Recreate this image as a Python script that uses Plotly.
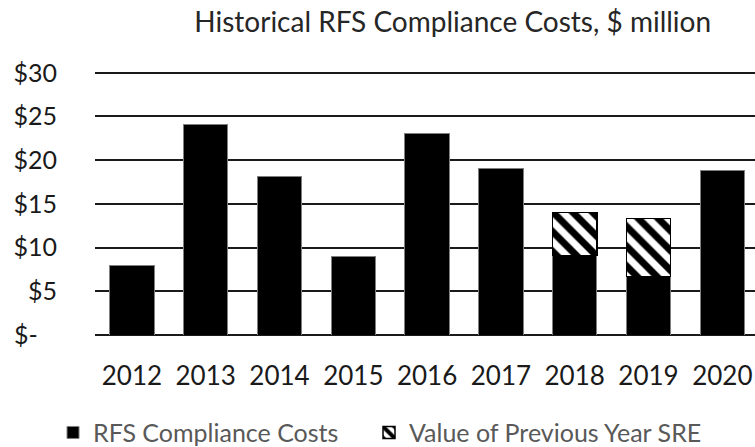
import plotly.graph_objects as go

years = ["2012", "2013", "2014", "2015", "2016", "2017", "2018", "2019", "2020"]
rfs_costs = [8.0, 24.1, 18.1, 9.0, 23.1, 19.1, 9.1, 6.7, 18.8]
sre_value = [None, None, None, None, None, None, 4.9, 6.6, None]
y_tickvals = [0, 5, 10, 15, 20, 25, 30]
y_ticktext = ["$-\u00a0\u00a0\u00a0", "$5", "$10", "$15", "$20", "$25", "$30"]

FONT = "Lato"

fig = go.Figure()
fig.add_trace(go.Bar(
    x=years, y=rfs_costs, name="RFS Compliance Costs" + "\u00a0" * 4,
    marker=dict(color="black", line=dict(color="#7f7f7f", width=1)),
))
fig.add_trace(go.Bar(
    x=years, y=sre_value, name="Value of Previous Year SRE",
    marker=dict(color="white", line=dict(color="black", width=1.5),
                pattern=dict(shape="\\", fgcolor="black", bgcolor="white",
                             fgopacity=1, size=14, solidity=0.5)),
))

fig.update_layout(
    width=755, height=447,
    barmode="stack", bargap=0.4,
    plot_bgcolor="white", paper_bgcolor="white",
    margin=dict(l=95, r=0, t=71, b=112, autoexpand=False),
    font=dict(family=FONT, color="#262626"),
    title=dict(text="Historical RFS Compliance Costs, $ million",
               x=0.542, xref="paper", xanchor="center",
               y=1 - 22 / 447, yref="container", yanchor="middle",
               font=dict(size=28, color="#262626", family=FONT)),
    xaxis=dict(range=[-0.5, 8.443], showgrid=False, showline=False,
               ticks="", tickfont=dict(size=26, color="#1a1a1a"),
               ticklabelstandoff=23, automargin=False),
    yaxis=dict(range=[0, 30.2], tickvals=y_tickvals, ticktext=y_ticktext,
               showgrid=True, gridcolor="#1a1a1a", gridwidth=2,
               zeroline=True, zerolinecolor="#1a1a1a", zerolinewidth=2,
               showline=False, ticks="", ticklabelstandoff=37,
               tickfont=dict(size=25, color="#1a1a1a"), automargin=False),
    legend=dict(orientation="h", x=-0.0636, xanchor="left", y=-0.283, yanchor="top",
                font=dict(size=25, color="#595959", family=FONT),
                itemwidth=30, traceorder="normal"),
)

fig.write_html("out.html", config={"displayModeBar": False},
               post_script="document.body.style.margin='0px';")
